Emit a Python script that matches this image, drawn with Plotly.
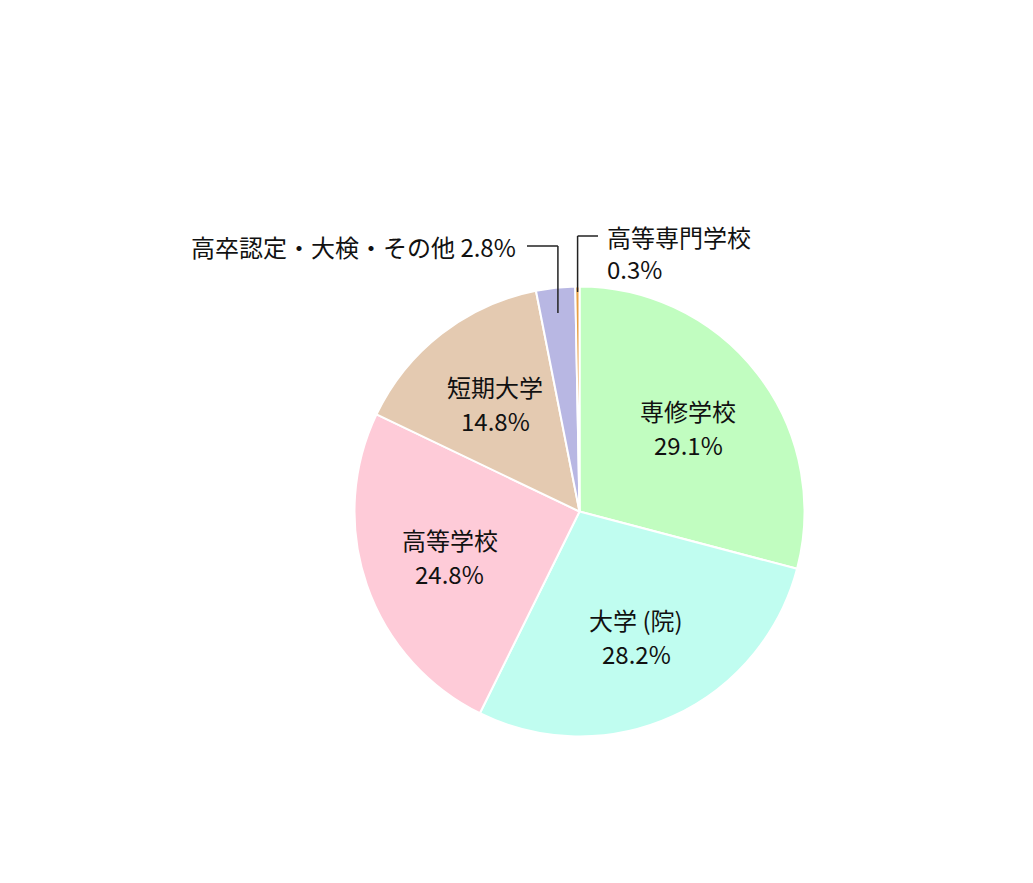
import math
import plotly.graph_objects as go

# data
labels = ["専修学校", "大学 (院)", "高等学校", "短期大学", "高卒認定・大検・その他", "高等専門学校"]
values = [29.1, 28.2, 24.8, 14.8, 2.8, 0.3]
colors = ["#c1fdc0", "#c0fdf0", "#fecbd8", "#e4cab1", "#b8b7e3", "#e89f42"]

# page body has an 8px margin, so the figure is drawn 16px smaller
OFF = 8
W, H = 1033 - 2 * OFF, 883 - 2 * OFF
CX, CY, R = 579.5, 511.5, 225
FONT = "Noto Sans CJK JP, Noto Sans, sans-serif"
FS = 24
GAP = 17  # half of the line distance in the labels


def px2paper(x, y):
    return (x - OFF) / W, 1 - (y - OFF) / H


def label(x, y, text, xanchor="center"):
    px, py = px2paper(x, y)
    return dict(x=px, y=py, xref="paper", yref="paper", showarrow=False,
                xanchor=xanchor, yanchor="middle", text=text,
                font=dict(family=FONT, size=FS, color="#111"))


(dx0, dy1), (dx1, dy0) = px2paper(CX - R, CY - R), px2paper(CX + R, CY + R)

fig = go.Figure(go.Pie(
    labels=labels, values=values, sort=False, direction="clockwise", rotation=0,
    marker=dict(colors=colors, line=dict(color="white", width=2)),
    textinfo="none", hoverinfo="label+percent", showlegend=False,
    domain=dict(x=[dx0, dx1], y=[dy0, dy1]),
))

total = sum(values)
cum = 0
mids = []
for v in values:
    mids.append((cum + v / 2) / total * 2 * math.pi)
    cum += v

annotations = []
shapes = []
# labels inside the big slices
for lab, v, a in zip(labels[:4], values[:4], mids[:4]):
    x = CX + 0.61 * R * math.sin(a)
    y = CY - 0.61 * R * math.cos(a)
    annotations.append(label(x, y - GAP, lab))
    annotations.append(label(x, y + GAP, f"{v}%"))


def seg(x0, y0, x1, y1):
    a0, b0 = px2paper(x0, y0)
    a1, b1 = px2paper(x1, y1)
    return dict(type="line", xref="paper", yref="paper", x0=a0, y0=b0, x1=a1, y1=b1,
                line=dict(color="#222", width=1.5))


# small slices with leader lines
lx1 = CX + 0.9 * R * math.sin(mids[4])
lx2 = CX + 0.9 * R * math.sin(mids[5])
shapes += [seg(527, 246, lx1, 246), seg(lx1, 246, lx1, 313),
           seg(lx2, 236, 598, 236), seg(lx2, 236, lx2, 292)]

annotations.append(label(518, 246, f"{labels[4]} {values[4]}%", "right"))
annotations.append(label(605, 236, labels[5], "left"))
annotations.append(label(605, 269, f"{values[5]}%", "left"))

fig.update_layout(
    width=W, height=H, margin=dict(l=0, r=0, t=0, b=0),
    paper_bgcolor="white", plot_bgcolor="white",
    annotations=annotations, shapes=shapes,
)

fig.write_html("out.html")
